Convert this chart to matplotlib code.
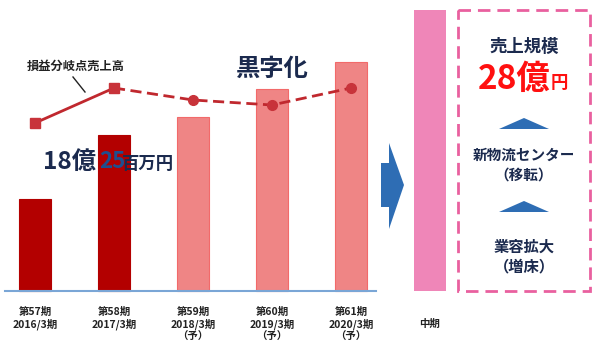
import matplotlib
matplotlib.use("Agg")
import matplotlib.pyplot as plt
from matplotlib.patches import Polygon, Rectangle

plt.rcParams['font.family'] = ['Noto Sans CJK JP', 'DejaVu Sans']

# data (schematic units, 1 unit ~ 10px in the reference)
periods = ['第57期\n2016/3期', '第58期\n2017/3期', '第59期\n2018/3期\n（予）',
           '第60期\n2019/3期\n（予）', '第61期\n2020/3期\n（予）']
sales = [9.2, 15.6, 17.4, 20.2, 22.9]
breakeven = [16.8, 20.3, 19.1, 18.6, 20.3]
mid_label = '中期'
mid_sales = 28.1

navy = '#1b2a4e'
line_red = '#c0282e'

fig = plt.figure(figsize=(6, 3.54), dpi=100)
ax = fig.add_axes([0, 0, 1, 1])
ax.set_xlim(-0.443, 7.152)
ax.set_ylim(-6.3, 29.1)
ax.axis('off')

x = list(range(len(sales)))
cols = ['#b30000', '#b30000', '#ef8585', '#ef8585', '#ef8585']
edges = ['#b30000', '#b30000', '#f26a6a', '#f26a6a', '#f26a6a']
ax.bar(x, sales, width=0.405, color=cols, edgecolor=edges, linewidth=0.8, zorder=2)
ax.bar([5], [mid_sales], width=0.395, color='#ef86b8', zorder=2)

# baseline
ax.plot([-0.38, 4.32], [0, 0], color='#7aa6d6', lw=1.5, zorder=3)

# break-even line
ax.plot(x[:2], breakeven[:2], color=line_red, lw=2, zorder=4)
ax.plot(x[1:], breakeven[1:], color=line_red, lw=2, ls=(0, (4, 2)), zorder=4)
ax.plot(x[:2], breakeven[:2], 's', color='#c8333a', ms=7.5, zorder=5)
ax.plot(x[2:], breakeven[2:], 'o', color='#c8333a', ms=7, zorder=5)

# x labels
for i, lab in enumerate(periods):
    ax.text(i, -1.6, lab, ha='center', va='top', fontsize=7.5, fontweight='bold',
            color='#222222', linespacing=1.2)
ax.text(5, -3.3, mid_label, ha='center', va='center', fontsize=7.5,
        fontweight='bold', color='#222222')

# overlay in pixel coordinates for annotations
ov = fig.add_axes([0, 0, 1, 1], facecolor='none')
ov.set_xlim(0, 600)
ov.set_ylim(354, 0)
ov.axis('off')

ov.text(76, 66, '損益分岐点売上高', ha='center', va='center', fontsize=8.8,
        fontweight='bold', color='#222222')
ov.plot([73, 85], [77, 92], color='#222222', lw=1)
ov.text(272, 69, '黒字化', ha='center', va='center', fontsize=17.5,
        fontweight='bold', color=navy)
ov.text(43, 162, '18億', ha='left', va='center', fontsize=17.5, fontweight='bold', color=navy)
ov.text(99, 162, '25', ha='left', va='center', fontsize=16, fontweight='bold', color='#1f4f8f')
ov.text(122, 164, '百万円', ha='left', va='center', fontsize=12.5, fontweight='bold', color=navy)

# big arrow
ov.add_patch(Polygon([(381, 163), (389, 163), (389, 143), (404, 185), (389, 229),
                      (389, 207), (381, 207)], closed=True, color='#2e6db4', lw=0))

# dashed box
ov.add_patch(Rectangle((458, 10), 132, 281, fill=False, edgecolor='#e9609f', lw=2,
                       ls=(0, (4.5, 2.5))))
ov.text(524, 47, '売上規模', ha='center', va='center', fontsize=12.5, fontweight='bold', color=navy)
ov.text(551, 79, '28億', ha='right', va='center', fontsize=24, fontweight='bold', color='#ff1010')
ov.text(551, 83, '円', ha='left', va='center', fontsize=12.5, fontweight='bold', color='#ff1010')
ov.add_patch(Polygon([(499, 129), (524, 118), (549, 129)], closed=True, color='#2e6db4', lw=0))
ov.text(524, 155, '新物流センター', ha='center', va='center', fontsize=10.5, fontweight='bold', color=navy)
ov.text(524, 175, '（移転）', ha='center', va='center', fontsize=10.5, fontweight='bold', color=navy)
ov.add_patch(Polygon([(499, 212), (524, 201), (549, 212)], closed=True, color='#2e6db4', lw=0))
ov.text(524, 247, '業容拡大', ha='center', va='center', fontsize=11, fontweight='bold', color=navy)
ov.text(524, 266, '（増床）', ha='center', va='center', fontsize=11, fontweight='bold', color=navy)

fig.savefig('out.png', dpi=100)
